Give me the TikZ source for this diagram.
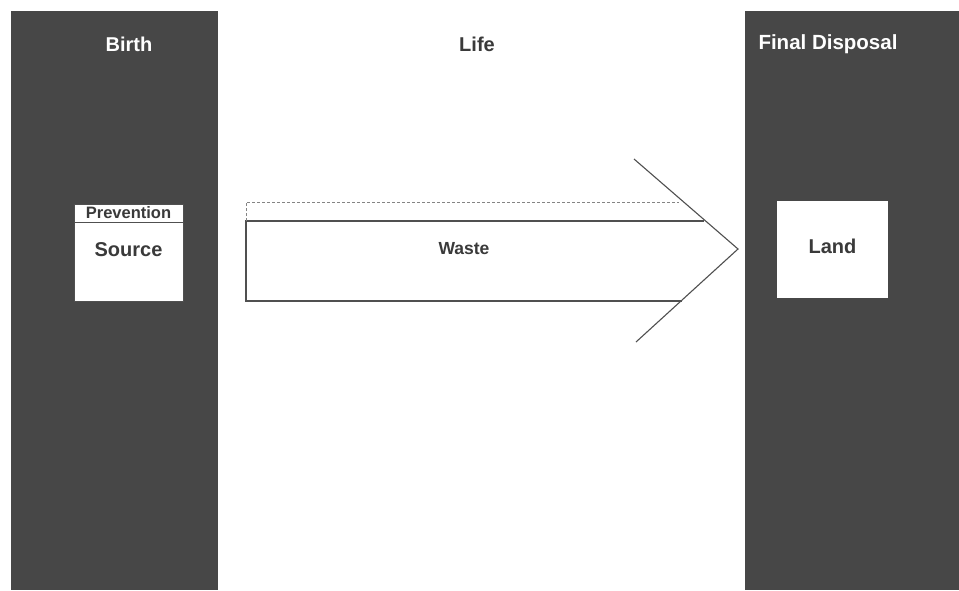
\documentclass[tikz,border=0pt]{standalone}
\usepackage{fontspec}
\setmainfont{Liberation Sans}
\begin{document}
\begin{tikzpicture}[x=1pt,y=-1pt,
  panel/.style={fill=panelgray,draw=none},
  whitebox/.style={draw=linegray,fill=white,line width=1pt,inner sep=0pt},
  paneltitle/.style={text=white,font=\bfseries\fontsize{20}{24}\selectfont},
  lbl/.style={text=textgray,font=\bfseries\fontsize{20}{24}\selectfont},
  arrline/.style={draw=linegray,line width=1.1pt},
  dashline/.style={draw=linegray!70,line width=0.6pt,dash pattern=on 3pt off 2pt}]
\definecolor{panelgray}{HTML}{474747}
\definecolor{linegray}{HTML}{505050}
\definecolor{textgray}{HTML}{3A3A3A}
\useasboundingbox (0,0) rectangle (959,590);
\fill[white] (0,0) rectangle (959,590);
% panels
\fill[panel] (11,11) rectangle (218,590);
\fill[panel] (745,11) rectangle (959,590);
% titles
\node[paneltitle] (birth) at (129,44) {Birth};
\node[lbl] (life) at (477,44) {Life};
\node[paneltitle,font=\bfseries\fontsize{20.5}{24}\selectfont] (final) at (828,44) {Final Disposal};
% source box
\node[whitebox,minimum width=109pt,minimum height=97pt] (source) at (128.5,252.5) {};
\draw[linegray,line width=1pt] (source.north west |- 0,222) coordinate (hl) -- (source.north east |- 0,222) coordinate (hr);
\node[text=textgray,font=\bfseries\fontsize{16.5}{19}\selectfont] (prev) at (128.5,212.5) {Prevention};
\node[lbl] (src) at (128.5,250) {Source};
% waste arrow
\coordinate (tl) at (246,221);
\coordinate (bl) at (246,301);
\coordinate (tr) at (704,221);
\coordinate (br) at (682,301);
\coordinate (dtl) at (246,202);
\coordinate (dtr) at (679,202);
\coordinate (up) at (634,159);
\coordinate (tip) at (738,249);
\coordinate (lo) at (636,342);
\draw[arrline] (tr) -- (tl) -- (bl) -- (br);
\draw[dashline] (tl) -- (dtl) -- (dtr);
\draw[arrline,line join=miter] (up) -- (tip) -- (lo);
\node[lbl,font=\bfseries\fontsize{17.5}{21}\selectfont] (waste) at (464,249) {Waste};
% land
\node[whitebox,draw=none,minimum width=111pt,minimum height=97pt] (land) at (832.5,249.5) {};
\node[lbl] (landt) at (832.5,246) {Land};
\end{tikzpicture}
\end{document}
